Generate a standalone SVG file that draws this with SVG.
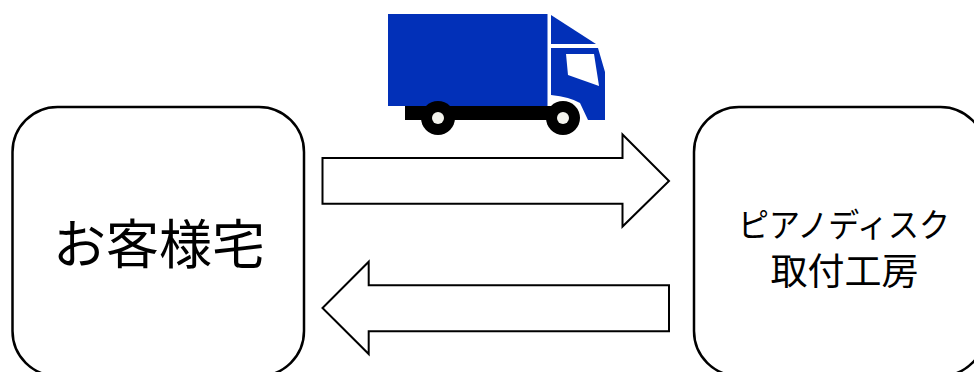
<svg xmlns="http://www.w3.org/2000/svg" width="974" height="372" viewBox="0 0 974 372">
<style>
.box{fill:#fff;stroke:#000;stroke-width:2.5}
.arrow{fill:#fff;stroke:#000;stroke-width:2;stroke-linejoin:miter}
.t{font-family:"Liberation Serif","Noto Sans CJK JP",serif;fill:#000;text-anchor:middle}
.cab{fill:#0230b8}
</style>
<rect width="974" height="372" fill="#fff"/>
<g id="truck">
<rect class="cab" x="388" y="14" width="159.500" height="92"/>
<rect x="405" y="106" width="150" height="14" fill="#000"/>
<path class="cab" d="M551 15L596 44H551Z"/>
<path class="cab" d="M551 48H598L605 72V120H588L580 103Q570 97 551 95Z"/>
<path d="M566 54H594L599 86L568 75Z" fill="#fff"/>
<circle cx="438" cy="118" r="17" fill="#000"/>
<circle cx="438" cy="118" r="6" fill="#f4f4ee"/>
<circle cx="563" cy="118" r="17" fill="#000"/>
<circle cx="563" cy="118" r="6" fill="#f4f4ee"/>
</g>
<g id="customer-home">
<rect class="box" x="12.500" y="107" width="291.500" height="269" rx="45"/>
<text class="t" x="159" y="264" font-size="53">お客様宅</text>
</g>
<g id="workshop">
<rect class="box" x="694" y="107" width="291.500" height="269" rx="45"/>
<text class="t" x="844" y="237" font-size="33" textLength="212" lengthAdjust="spacingAndGlyphs">ピアノディスク</text>
<text class="t" x="844.500" y="285" font-size="37">取付工房</text>
</g>
<g id="connectors">
<path class="arrow" d="M322.500 158H622.500V134.500L669 181L622.500 226.500V203.700H322.500Z"/>
<path class="arrow" d="M669 285.300H368.700V261.700L322.500 308L368.700 354V331.300H669Z"/>
</g>
</svg>
